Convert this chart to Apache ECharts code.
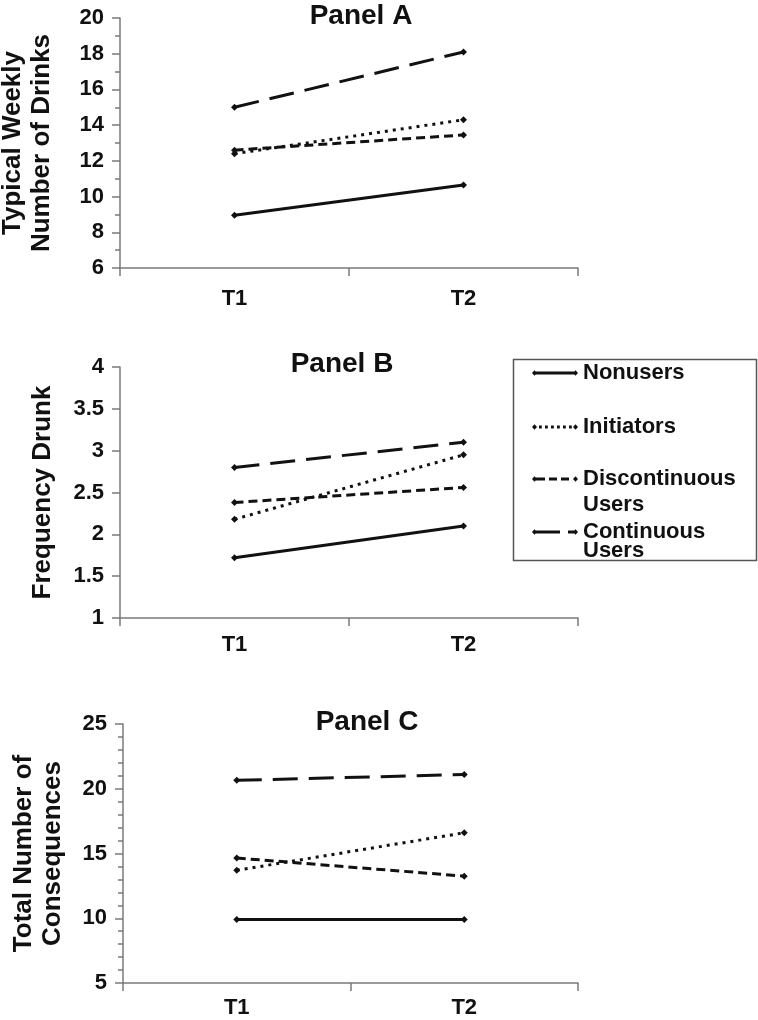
<!DOCTYPE html>
<html>
<head>
<meta charset="utf-8">
<style>
  html, body { margin: 0; padding: 0; background: #fff; }
  #chart { width: 758px; height: 1020px; }
</style>
</head>
<body>
<div id="chart"></div>
<script src="https://cdn.jsdelivr.net/npm/echarts@6/dist/echarts.min.js"></script>
<script>
// categories
const times = ['T1', 'T2'];
const groups = ['Nonusers', 'Initiators', 'Discontinuous Users', 'Continuous Users'];

// Panel A: typical weekly number of drinks
const drinksNonusers = [8.95, 10.65];
const drinksInitiators = [12.4, 14.3];
const drinksDiscontinuous = [12.6, 13.45];
const drinksContinuous = [15.0, 18.1];

// Panel B: frequency drunk
const drunkNonusers = [1.72, 2.10];
const drunkInitiators = [2.18, 2.95];
const drunkDiscontinuous = [2.38, 2.56];
const drunkContinuous = [2.80, 3.10];

// Panel C: total number of consequences
const consNonusers = [9.9, 9.9];
const consInitiators = [13.7, 16.6];
const consDiscontinuous = [14.65, 13.25];
const consContinuous = [20.65, 21.1];

const panelTitles = ['Panel A', 'Panel B', 'Panel C'];
const yNames = ['Typical Weekly\nNumber of Drinks', 'Frequency Drunk', 'Total Number of\nConsequences'];
const yMin = [6, 1, 5];
const yMax = [20, 4, 25];
const yInterval = [2, 0.5, 5];
const yMinorSplit = [2, 0, 5];

const panelData = [
  [drinksNonusers, drinksInitiators, drinksDiscontinuous, drinksContinuous],
  [drunkNonusers, drunkInitiators, drunkDiscontinuous, drunkContinuous],
  [consNonusers, consInitiators, consDiscontinuous, consContinuous]
];

const FONT = '"Liberation Sans", Arial, Helvetica, sans-serif';
const INK = '#111';
const AXIS = '#7a7a7a';

// line look per group
const dashes = ['solid', [3, 5], [9, 5], [25, 11]];

// legend icons drawn like the Excel ones: end markers + dash pattern (46 x 6 box)
const tip = (x) => `M${x} 3L${x + 2.5} 0.3L${x + 5} 3L${x + 2.5} 5.7Z`;
const bar = (a, b) => `M${a} 1.5L${b} 1.5L${b} 4.5L${a} 4.5Z`;
const legendIcons = [
  'path://' + tip(0) + bar(2, 44) + tip(41),
  'path://' + tip(0) + [7, 13, 19, 25, 31, 37].map(x => bar(x, x + 2.8)).join('') + tip(41),
  'path://' + tip(0) + bar(2, 13) + bar(17, 25) + bar(29, 37) + tip(41),
  'path://' + tip(0) + bar(2, 28) + bar(36, 43) + tip(41)
];

// layout of the three plots
const grids = [
  { left: 120, top: 18, width: 458, height: 250 },
  { left: 120, top: 367, width: 458, height: 251 },
  { left: 123, top: 724, width: 455, height: 259 }
];
const nameGaps = [64, 63, 56];
const xLabelMargin = [20, 16, 14];
const titlePos = [[361, 16], [342, 364], [367, 722]];

const chart = echarts.init(document.getElementById('chart'));

const series = [];
panelData.forEach((rows, p) => {
  rows.forEach((vals, g) => {
    series.push({
      name: groups[g],
      type: 'line',
      xAxisIndex: p,
      yAxisIndex: p,
      data: vals,
      symbol: 'diamond',
      symbolSize: 7,
      color: INK,
      itemStyle: { color: INK },
      lineStyle: { color: INK, width: 3, type: dashes[g] },
      emphasis: { disabled: true },
      animation: false
    });
  });
});

// legend: one block per entry; a blank first line keeps the icon on the first text line
const legendTop = [361, 415, 440, 502];
const legendLine = [24, 24, 26, 19];
const legends = groups.map((g, i) => ({
  data: [{ name: g, icon: legendIcons[i] }],
  orient: 'vertical',
  left: 532,
  top: legendTop[i],
  padding: 0,
  itemWidth: 46,
  itemHeight: 6,
  itemGap: 0,
  itemStyle: { borderWidth: 0 },
  formatter: (name) => name.indexOf(' Users') > 0 ? '\n' + name.replace(' Users', '\nUsers') : name,
  textStyle: {
    fontFamily: FONT, fontSize: 22, fontWeight: 'bold', color: INK,
    lineHeight: legendLine[i]
  }
}));

chart.setOption({
  backgroundColor: '#fff',
  animation: false,
  grid: grids.map(g => Object.assign({ outerBoundsMode: 'none', containLabel: false }, g)),
  xAxis: grids.map((g, p) => ({
    type: 'category',
    gridIndex: p,
    data: times,
    boundaryGap: true,
    axisLine: { show: true, lineStyle: { color: AXIS, width: 1.5 } },
    axisTick: { show: true, length: 8, inside: false, alignWithLabel: false, interval: 0, lineStyle: { color: AXIS, width: 1.5 } },
    axisLabel: { fontFamily: FONT, fontSize: 22, fontWeight: 'bold', color: INK, margin: xLabelMargin[p] },
    splitLine: { show: false }
  })),
  yAxis: grids.map((g, p) => ({
    type: 'value',
    gridIndex: p,
    min: yMin[p],
    max: yMax[p],
    interval: yInterval[p],
    name: yNames[p],
    nameLocation: 'middle',
    nameRotate: 90,
    nameGap: nameGaps[p],
    nameTextStyle: { fontFamily: FONT, fontSize: 26, fontWeight: 'bold', color: INK, lineHeight: 29 },
    axisLine: { show: true, lineStyle: { color: AXIS, width: 1.5 } },
    axisTick: { show: true, length: 8, inside: false, lineStyle: { color: AXIS, width: 1.5 } },
    minorTick: { show: yMinorSplit[p] > 0, splitNumber: yMinorSplit[p] || 5, length: 5, lineStyle: { color: AXIS, width: 1.5 } },
    axisLabel: { fontFamily: FONT, fontSize: 22, fontWeight: 'bold', color: INK, margin: 16 },
    splitLine: { show: false },
    minorSplitLine: { show: false }
  })),
  legend: legends,
  graphic: [
    {
      type: 'rect',
      z: -1,
      shape: { x: 513.5, y: 359.5, width: 243, height: 201 },
      style: { fill: '#fff', stroke: '#555', lineWidth: 1.5 }
    }
  ].concat(panelTitles.map((t, p) => ({
    type: 'text',
    x: titlePos[p][0],
    y: titlePos[p][1],
    style: {
      text: t,
      font: 'bold 28px ' + FONT,
      fill: INK,
      textAlign: 'center',
      textVerticalAlign: 'middle'
    }
  }))),
  series: series
});
</script>
</body>
</html>
